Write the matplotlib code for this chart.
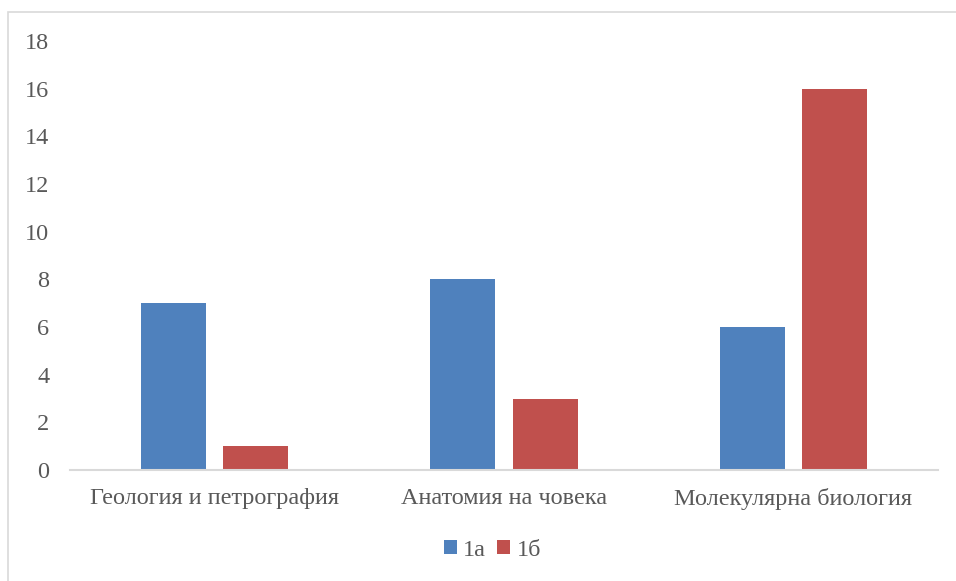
import numpy as np
import matplotlib
matplotlib.use("Agg")
import matplotlib.pyplot as plt
from matplotlib.patches import Rectangle

# data
categories = ["Геология и петрография", "Анатомия на човека", "Молекулярна биология"]
series_names = ["1а", "1б"]
values_1a = [7, 8, 6]
values_1b = [1, 3, 16]
y_ticks = [0, 2, 4, 6, 8, 10, 12, 14, 16, 18]

plt.rcParams['font.family'] = ['Liberation Serif', 'DejaVu Serif']

text_color = "#595959"
line_color = "#D9D9D9"
colors = ["#4F81BD", "#C0504D"]

fig = plt.figure(figsize=(9.56, 5.81), dpi=100)
ax = fig.add_axes([0.0732, 0.191, 0.908, 0.7384])

x = np.arange(len(categories))
width = 0.225
gap = 0.059
off = (width + gap) / 2
ax.bar(x - off, values_1a, width, color=colors[0], label=series_names[0])
ax.bar(x + off, values_1b, width, color=colors[1], label=series_names[1])

ax.set_xlim(-0.5, len(categories) - 0.5)
ax.set_ylim(0, 18)
ax.set_yticks(y_ticks)
ax.set_xticks(x)
ax.set_xticklabels(categories)

for s in ["top", "right", "left"]:
    ax.spines[s].set_visible(False)
ax.spines["bottom"].set_color(line_color)
ax.spines["bottom"].set_linewidth(1.5)
ax.tick_params(axis="both", length=0, labelsize=17.5, colors=text_color)
ax.tick_params(axis="y", pad=15)
ax.tick_params(axis="x", pad=13)

leg = fig.legend(loc="center", bbox_to_anchor=(0.515, 0.053), ncol=2, frameon=False,
                 fontsize=17.5, handlelength=0.55, handleheight=0.55, handletextpad=0.25,
                 columnspacing=0.45)
for t in leg.get_texts():
    t.set_color(text_color)

# outer chart border
fig.patches.append(Rectangle((8 / 956, -0.05), 1.0, 1 - 12 / 581 + 0.05,
                             transform=fig.transFigure, fill=False,
                             edgecolor=line_color, linewidth=1.2))

fig.savefig("out.png", dpi=100)
